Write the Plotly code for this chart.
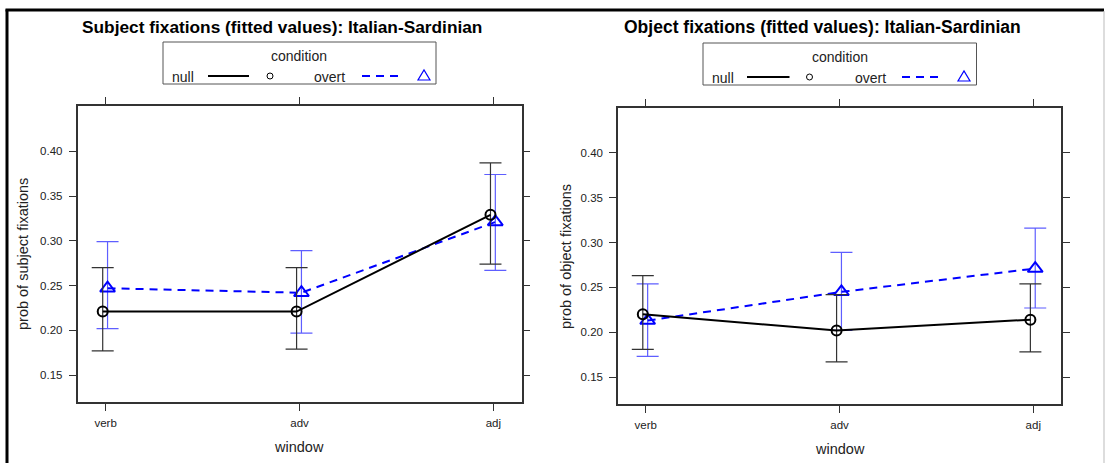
import plotly.graph_objects as go

W, H = 1105, 463

categories = ["verb", "adv", "adj"]

# Left panel: subject fixations
subj_null_fit = [0.221, 0.221, 0.329]
subj_null_lo = [0.177, 0.179, 0.274]
subj_null_hi = [0.270, 0.270, 0.387]
subj_overt_fit = [0.247, 0.242, 0.321]
subj_overt_lo = [0.202, 0.197, 0.267]
subj_overt_hi = [0.299, 0.289, 0.374]

# Right panel: object fixations
obj_null_fit = [0.220, 0.202, 0.214]
obj_null_lo = [0.181, 0.167, 0.178]
obj_null_hi = [0.263, 0.242, 0.254]
obj_overt_fit = [0.213, 0.245, 0.271]
obj_overt_lo = [0.173, 0.202, 0.227]
obj_overt_hi = [0.254, 0.289, 0.316]

y_ticks = [0.15, 0.20, 0.25, 0.30, 0.35, 0.40]

NULL_OFF, OVERT_OFF = -0.015, 0.01
FONT = "Liberation Sans"
BLUE = "#0000ff"


def px(x):
    return x / W


def py(y):
    return 1 - y / H


fig = go.Figure()


def add_panel(xa, ya, nfit, nlo, nhi, ofit, olo, ohi):
    idx = list(range(1, len(categories) + 1))
    fig.add_trace(go.Scatter(
        x=[i + OVERT_OFF for i in idx], y=ofit, xaxis=xa, yaxis=ya,
        mode="lines+markers", showlegend=False,
        line=dict(color=BLUE, width=2, dash="8px,6px"),
        marker=dict(symbol="triangle-up-open", size=13, color=BLUE, line=dict(width=2, color=BLUE)),
        error_y=dict(type="data", symmetric=False,
                     array=[h - f for h, f in zip(ohi, ofit)],
                     arrayminus=[f - l for f, l in zip(ofit, olo)],
                     color="rgba(40,40,255,0.75)", thickness=1.2, width=11),
    ))
    fig.add_trace(go.Scatter(
        x=[i + NULL_OFF for i in idx], y=nfit, xaxis=xa, yaxis=ya,
        mode="lines+markers", showlegend=False,
        line=dict(color="black", width=2),
        marker=dict(symbol="circle-open", size=10, color="black", line=dict(width=2, color="black")),
        error_y=dict(type="data", symmetric=False,
                     array=[h - f for h, f in zip(nhi, nfit)],
                     arrayminus=[f - l for f, l in zip(nfit, nlo)],
                     color="#333333", thickness=1.2, width=11),
    ))


add_panel("x", "y", subj_null_fit, subj_null_lo, subj_null_hi,
          subj_overt_fit, subj_overt_lo, subj_overt_hi)
add_panel("x2", "y2", obj_null_fit, obj_null_lo, obj_null_hi,
          obj_overt_fit, obj_overt_lo, obj_overt_hi)

axis_common = dict(showline=True, linecolor="#333333", linewidth=1.5, mirror="ticks",
                   ticks="outside", ticklen=7, tickwidth=1, tickcolor="#333333",
                   showgrid=False, zeroline=False,
                   tickfont=dict(family=FONT, size=11.5, color="#222222"))

xcommon = dict(axis_common, tickvals=[1, 2, 3], ticktext=categories, ticklabelstandoff=2)
ycommon = dict(axis_common, range=[0.12, 0.4505], tickvals=y_ticks,
               ticktext=[f"{v:.2f}" for v in y_ticks], ticklabelstandoff=4)

fig.update_layout(
    width=W, height=H, margin=dict(l=0, r=0, t=0, b=0),
    paper_bgcolor="white", plot_bgcolor="white", showlegend=False,
    xaxis=dict(xcommon, domain=[px(77.5), px(521.5)], range=[0.855, 3.145], anchor="y"),
    yaxis=dict(ycommon, domain=[py(402), py(106)], anchor="x"),
    xaxis2=dict(xcommon, domain=[px(618), px(1061)], range=[0.857, 3.143], anchor="y2"),
    yaxis2=dict(ycommon, domain=[py(404), py(107.5)], anchor="x2"),
)

shapes = []
ann = []

# outer frame
shapes.append(dict(type="line", xref="paper", yref="paper", x0=px(7), x1=px(7), y0=py(9.5), y1=py(470),
                   line=dict(color="black", width=3)))
shapes.append(dict(type="line", xref="paper", yref="paper", x0=px(5.5), x1=px(1104), y0=py(10), y1=py(10),
                   line=dict(color="black", width=3)))
shapes.append(dict(type="line", xref="paper", yref="paper", x0=px(1104), x1=px(1104), y0=py(11), y1=py(470),
                   line=dict(color="#bbbbbb", width=1)))

# titles
ann.append(dict(text="<b>Subject fixations (fitted values): Italian-Sardinian</b>", x=px(282), y=py(27),
                xref="paper", yref="paper", showarrow=False, xanchor="center", yanchor="middle",
                font=dict(family=FONT, size=17.3, color="black")))
ann.append(dict(text="<b>Object fixations (fitted values): Italian-Sardinian</b>", x=px(822), y=py(27),
                xref="paper", yref="paper", showarrow=False, xanchor="center", yanchor="middle",
                font=dict(family=FONT, size=17.5, color="black")))

# axis titles
for xc, yc, t in [(23, 254, "prob of subject fixations"), (566, 257, "prob of object fixations")]:
    ann.append(dict(text=t, x=px(xc), y=py(yc), xref="paper", yref="paper", showarrow=False,
                    textangle=-90, xanchor="center", yanchor="middle",
                    font=dict(family=FONT, size=14.5, color="#222222")))
for xc, yc in [(299, 447), (840, 449)]:
    ann.append(dict(text="window", x=px(xc), y=py(yc), xref="paper", yref="paper", showarrow=False,
                    xanchor="center", yanchor="middle", font=dict(family=FONT, size=14.5, color="#222222")))


# legends
def add_legend(bx0, bx1, by0, by1, cx, null_x, line_x0, line_x1, circ_x, overt_x, dash_x0, dash_x1, tri_x):
    shapes.append(dict(type="rect", xref="paper", yref="paper", x0=px(bx0), x1=px(bx1), y0=py(by1), y1=py(by0),
                       line=dict(color="#555555", width=1), fillcolor="rgba(0,0,0,0)"))
    iy = by0 + 34
    ann.append(dict(text="condition", x=px(cx), y=py(by0 + 14), xref="paper", yref="paper", showarrow=False,
                    xanchor="center", yanchor="middle", font=dict(family=FONT, size=14, color="#222222")))
    ann.append(dict(text="null", x=px(null_x), y=py(iy + 1), xref="paper", yref="paper", showarrow=False,
                    xanchor="left", yanchor="middle", xshift=-2, font=dict(family=FONT, size=14, color="#222222")))
    ann.append(dict(text="overt", x=px(overt_x), y=py(iy + 1), xref="paper", yref="paper", showarrow=False,
                    xanchor="left", yanchor="middle", xshift=-2, font=dict(family=FONT, size=14, color="#222222")))
    shapes.append(dict(type="line", xref="paper", yref="paper", x0=px(line_x0), x1=px(line_x1),
                       y0=py(iy), y1=py(iy), line=dict(color="black", width=2)))
    shapes.append(dict(type="line", xref="paper", yref="paper", x0=px(dash_x0), x1=px(dash_x1),
                       y0=py(iy), y1=py(iy), line=dict(color=BLUE, width=2, dash="8px,6px")))
    shapes.append(dict(type="circle", xref="paper", yref="paper", x0=px(circ_x - 3), x1=px(circ_x + 3),
                       y0=py(iy + 3), y1=py(iy - 3), line=dict(color="black", width=1)))
    path = "M {} {} L {} {} L {} {} Z".format(px(tri_x - 6), py(iy + 4), px(tri_x + 6), py(iy + 4),
                                              px(tri_x), py(iy - 6))
    shapes.append(dict(type="path", xref="paper", yref="paper", path=path, line=dict(color=BLUE, width=1.2)))


add_legend(163, 436, 42, 84, 299, 171.5, 208, 249, 270, 314, 362, 399, 424)
add_legend(703, 976.5, 43, 85, 839.5, 712, 747, 789.5, 809.5, 855, 902, 940.5, 964)

fig.update_layout(shapes=shapes, annotations=ann)

fig.write_html("out.html")
